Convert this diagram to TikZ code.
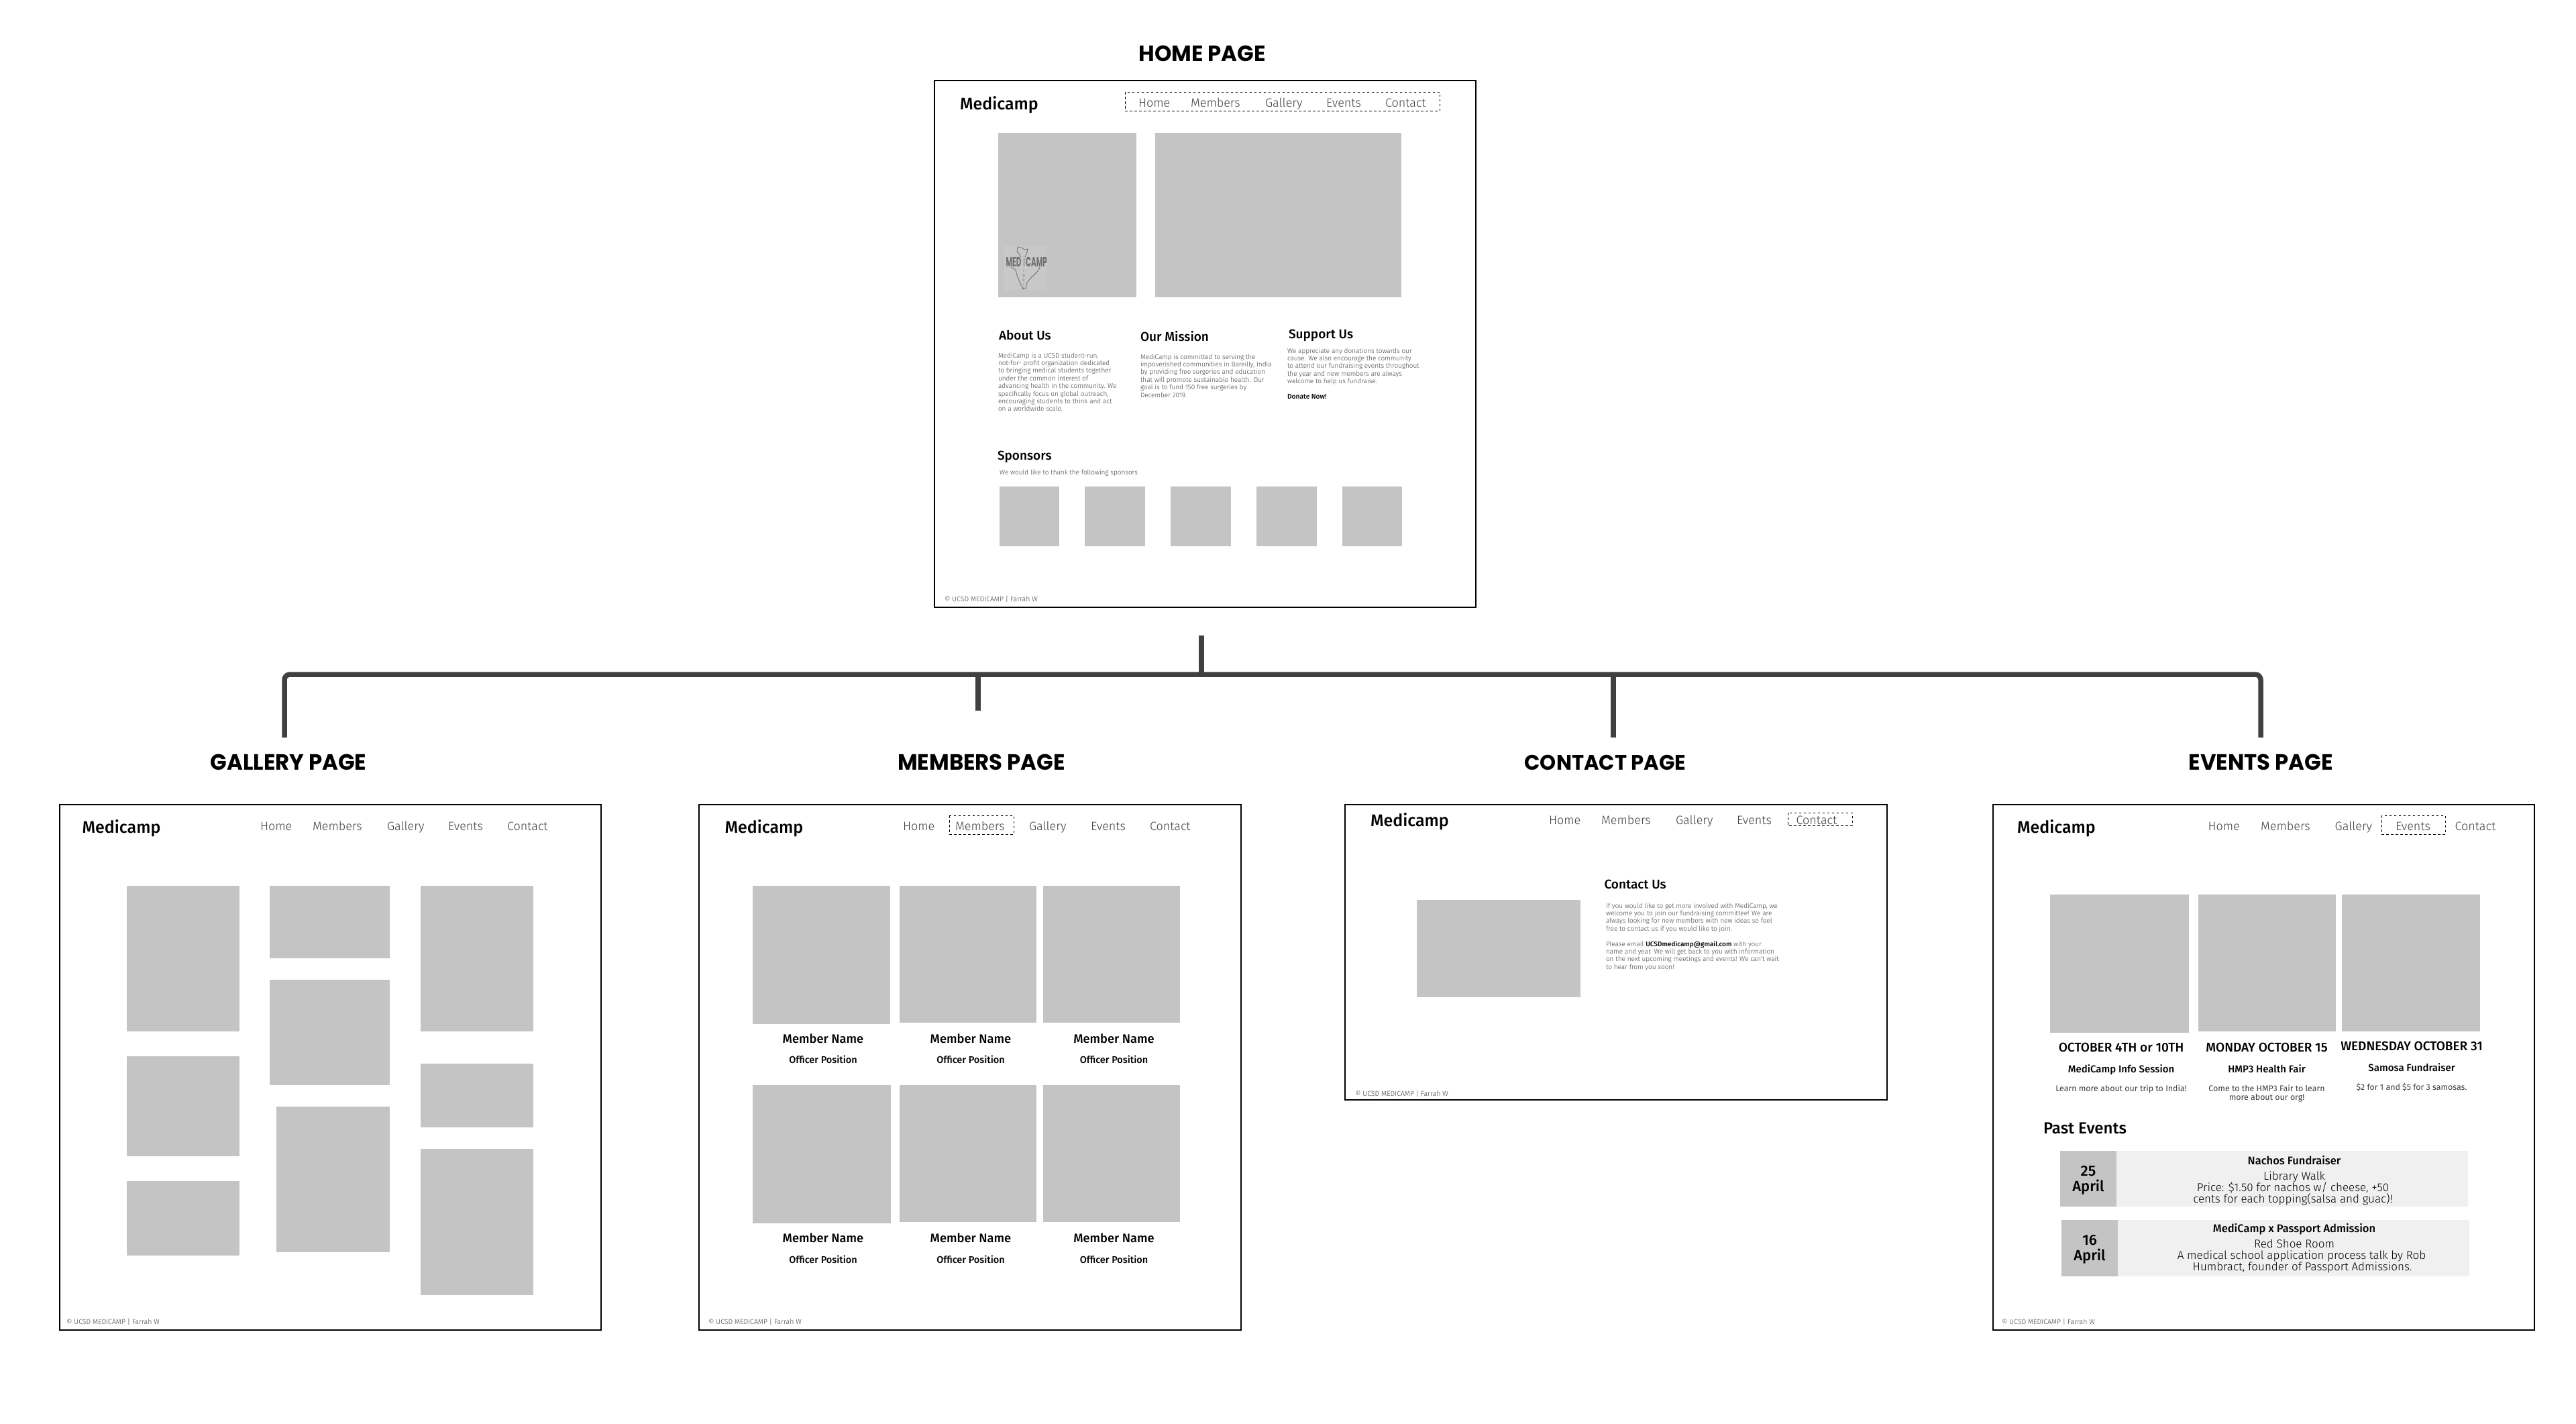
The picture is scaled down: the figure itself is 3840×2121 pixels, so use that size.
\documentclass[tikz,border=0pt]{standalone}
\usepackage{fontspec}
\setmainfont{Fira Sans}
\newfontfamily\lightf{Fira Sans Light}
\newfontfamily\semif{Fira Sans Medium}
\newfontfamily\headf[FakeStretch=0.98]{Poppins}
\newfontfamily\logof[FakeStretch=0.52]{Poppins}
\newcommand\fs[2]{\fontsize{#1pt}{#2pt}\selectfont\lineskiplimit=-20pt\relax}
\newcounter{nn}
\definecolor{imgc}{HTML}{C4C4C4}
\definecolor{bodyc}{HTML}{404040}
\definecolor{linkc}{HTML}{404040}
\definecolor{logoc}{HTML}{6E6E6E}
\tikzset{
  x=1pt,y=-1pt,
  txt/.style={inner sep=0pt,outer sep=0pt,anchor=base west,yshift=-1pt},
  ctxt/.style={inner sep=0pt,outer sep=0pt,anchor=base,yshift=-1pt},
  pagehead/.style={ctxt,font=\headf\bfseries\fs{33}{36}},
  brand/.style={txt,font=\semif\fs{25}{28}},
  navt/.style={txt,font=\lightf\fs{18}{20},text=bodyc},
  foot/.style={txt,font=\lightf\fs{10.5}{12},text=bodyc},
  hthree/.style={txt,font=\semif\fs{19}{22}},
  bodyt/.style={txt,font=\lightf\fs{10}{11.4},text=bodyc},
  imgbox/.style={fill=imgc,draw=none},
  pageframe/.style={draw=black,line width=2.5pt,fill=white},
  dashbox/.style={draw=black,line width=1pt,dash pattern=on 3.5pt off 3.5pt},
  bus/.style={draw=linkc,line width=7.5pt,line join=round},
  mname/.style={ctxt,font=\semif\fs{18.3}{20}},
  mpos/.style={ctxt,font=\semif\fs{14.5}{16}},
  edate/.style={ctxt,font=\semif\fs{19}{22},text=black},
  esub/.style={ctxt,font=\semif\fs{15}{17}},
  edesc/.style={ctxt,font=\fs{12.4}{14},text=bodyc},
  cday/.style={ctxt,font=\semif\fs{22}{24}},
  ctitle/.style={ctxt,font=\semif\fs{16.5}{19}},
  cline/.style={ctxt,font=\lightf\fs{17}{19},text=black},
  logot/.style={ctxt,font=\logof\bfseries\fs{20}{22},text=logoc},
  logoi/.style={ctxt,font=\fs{5}{5.6},text=logoc},
  logol/.style={draw=logoc,line width=0.8pt,line join=round},
}
\newcommand\T[4][]{\stepcounter{nn}\node[#1] (n\arabic{nn}) at (#2,#3) {#4};}
\newcommand\R[4]{\path[imgbox] (#1,#2) rectangle (#3,#4);}
\newcommand\Nav[6]{%
  \T[navt]{#2}{#1}{Home}\T[navt]{#3}{#1}{Members}\T[navt]{#4}{#1}{Gallery}%
  \T[navt]{#5}{#1}{Events}\T[navt]{#6}{#1}{Contact}}
\newcommand\Foot[2]{\T[foot]{#1}{#2}{© UCSD MEDICAMP | Farrah W}}
\newcommand\Para[3]{\T[bodyt]{#1}{#2}{\vtop{#3}}}
\newcommand\LL[1]{\hbox{#1}}
\begin{document}
\begin{tikzpicture}
\useasboundingbox (0,0) rectangle (3840,2121);
\fill[white] (0,0) rectangle (3840,2121);

% ---------- connectors
\coordinate (trunkTop) at (1791,947);
\coordinate (trunkJoin) at (1791,1005);
\coordinate (galDrop) at (424,1099);
\coordinate (galCorner) at (424,1005);
\coordinate (memJoin) at (1458,1005);
\coordinate (memDrop) at (1458,1059);
\coordinate (conJoin) at (2405,1005);
\coordinate (conDrop) at (2405,1099);
\coordinate (evtCorner) at (3370,1005);
\coordinate (evtDrop) at (3370,1099);
\draw[bus,rounded corners=8pt] (galDrop) -- (galCorner) -- (evtCorner) -- (evtDrop);
\draw[bus] (trunkTop) -- (trunkJoin);
\draw[bus] (memJoin) -- (memDrop);
\draw[bus] (conJoin) -- (conDrop);

% ---------- HOME
\T[pagehead]{1792}{90}{HOME PAGE}
\path[pageframe] (1393,120) rectangle (2200,905);
\T[brand]{1431}{162}{Medicamp}
\path[dashbox] (1677,137) rectangle (2146,165);
\Nav{158}{1697}{1775}{1886}{1977}{2065}
\R{1488}{198}{1694}{443}
\R{1722}{198}{2089}{443}
% logo
\path[fill=black!21.5] (1497,366) rectangle (1560,433);
\draw[logol]
  (1522,383) -- (1519,378) -- (1516,375) -- (1517,368) -- (1523,369) -- (1527,372) -- (1532,371) -- (1531,376) -- (1528,383);
\draw[logol]
  (1507,398) -- (1514,402) -- (1516,410) -- (1520,420) -- (1525,431) -- (1529,430) -- (1531,421) -- (1536,415) -- (1548,403) -- (1550,398);
\T[logot]{1511}{396}{MED}
\T[logot]{1545}{396}{CAMP}
\draw[logol] (1526,384) -- (1526,397);
\T[logoi]{1526}{404}{I}
\T[logoi]{1526}{411}{N}
\T[logoi]{1526}{418}{D}
\T[logoi]{1526}{424}{I}
\T[logoi]{1526}{430}{A}

\T[hthree]{1489}{505}{About Us}
\Para{1488}{532}{\LL{MediCamp is a UCSD student-run,}\LL{not-for- profit organization dedicated}\LL{to bringing medical students together}\LL{under the common interest of}\LL{advancing health in the community. We}\LL{specifically focus on global outreach,}\LL{encouraging students to think and act}\LL{on a worldwide scale.}}
\T[hthree]{1700}{507}{Our Mission}
\Para{1700}{534}{\LL{MediCamp is committed to serving the}\LL{impoverished communities in Bareilly, India}\LL{by providing free surgeries and education}\LL{that will promote sustainable health. Our}\LL{goal is to fund 150 free surgeries by}\LL{December 2019.}}
\T[hthree]{1921}{503}{Support Us}
\Para{1919}{525}{\LL{We appreciate any donations towards our}\LL{cause. We also encourage the community}\LL{to attend our fundraising events throughout}\LL{the year and new members are always}\LL{welcome to help us fundraise.}}
\T[txt,font=\semif\fs{10.2}{12}]{1919}{593}{Donate Now!}
\T[hthree]{1487}{684}{Sponsors}
\T[bodyt]{1490}{706}{We would like to thank the following sponsors}
\R{1490}{725}{1579}{814}
\R{1617}{725}{1707}{814}
\R{1745}{725}{1835}{814}
\R{1873}{725}{1963}{814}
\R{2001}{725}{2090}{814}
\Foot{1408}{895}

% ---------- GALLERY
\T[pagehead]{430}{1146}{GALLERY PAGE}
\path[pageframe] (89,1199) rectangle (896,1982);
\T[brand]{122.6}{1240}{Medicamp}
\Nav{1236}{388}{466}{577}{668}{756}
\R{189}{1320}{357}{1537}
\R{189}{1574}{357}{1723}
\R{189}{1760}{357}{1871}
\R{402}{1320}{581}{1428}
\R{402}{1460}{581}{1617}
\R{412}{1649}{581}{1866}
\R{627}{1320}{795}{1537}
\R{627}{1585}{795}{1680}
\R{627}{1712}{795}{1930}
\Foot{99}{1972}

% ---------- MEMBERS
\T[pagehead]{1463}{1146}{MEMBERS PAGE}
\path[pageframe] (1042,1199) rectangle (1850,1982);
\T[brand]{1080.5}{1240}{Medicamp}
\path[dashbox] (1415,1215) rectangle (1511,1243);
\Nav{1236}{1346}{1424}{1534}{1626}{1714}
\R{1122}{1320}{1327}{1526}
\R{1341}{1320}{1545}{1524}
\R{1554.5}{1320}{1759}{1524}
\R{1122}{1617}{1328}{1823}
\R{1341}{1617}{1545}{1821}
\R{1554.5}{1617}{1759}{1821}
\T[mname]{1227}{1553}{Member Name}
\T[mname]{1447}{1553}{Member Name}
\T[mname]{1660.5}{1553}{Member Name}
\T[mpos]{1227}{1583}{Officer Position}
\T[mpos]{1447}{1583}{Officer Position}
\T[mpos]{1660.5}{1583}{Officer Position}
\T[mname]{1227}{1850}{Member Name}
\T[mname]{1447}{1850}{Member Name}
\T[mname]{1660.5}{1850}{Member Name}
\T[mpos]{1227}{1881}{Officer Position}
\T[mpos]{1447}{1881}{Officer Position}
\T[mpos]{1660.5}{1881}{Officer Position}
\Foot{1056}{1972}

% ---------- CONTACT
\T[pagehead,font=\headf\bfseries\fs{31.3}{36}]{2393}{1146}{CONTACT PAGE}
\path[pageframe] (2005,1199) rectangle (2813,1639);
\T[brand]{2043}{1230}{Medicamp}
\path[dashbox] (2665,1211) rectangle (2761,1230);
\Nav{1227}{2309}{2387}{2498}{2589}{2677.6}
\R{2112}{1341}{2356}{1486}
\T[hthree]{2391.5}{1323.5}{Contact Us}
\Para{2394}{1352}{\LL{If you would like to get more involved with MediCamp, we}\LL{welcome you to join our fundraising committee! We are}\LL{always looking for new members with new ideas so feel}\LL{free to contact us if you would like to join.}}
\Para{2394}{1409}{\LL{Please email {\semif\color{black}UCSDmedicamp@gmail.com} with your}\LL{name and year. We will get back to you with information}\LL{on the next upcoming meetings and events! We can't wait}\LL{to hear from you soon!}}
\Foot{2020}{1632}

% ---------- EVENTS
\T[pagehead]{3370}{1146}{EVENTS PAGE}
\path[pageframe] (2971,1199) rectangle (3778,1982);
\T[brand]{3007}{1240}{Medicamp}
\path[dashbox] (3550,1215) rectangle (3645,1243);
\Nav{1236}{3291.5}{3370}{3480.6}{3571}{3659.5}
\R{3056}{1333}{3263}{1539}
\R{3276.5}{1333}{3482}{1537}
\R{3491}{1333}{3696.5}{1537}
\T[edate]{3162}{1566}{OCTOBER 4TH or 10TH}
\T[edate]{3379}{1566}{MONDAY OCTOBER 15}
\T[edate]{3595}{1564}{WEDNESDAY OCTOBER 31}
\T[esub]{3162}{1597}{MediCamp Info Session}
\T[esub]{3379}{1597}{HMP3 Health Fair}
\T[esub]{3595}{1595}{Samosa Fundraiser}
\T[edesc]{3162}{1625}{Learn more about our trip to India!}
\T[edesc]{3379}{1625}{Come to the HMP3 Fair to learn}
\T[edesc]{3379}{1638}{more about our org!}
\T[edesc]{3595}{1623}{\$2 for 1 and \$5 for 3 samosas.}
\T[txt,font=\semif\fs{24}{27}]{3046}{1688}{Past Events}
\path[fill=black!6] (3155,1715) rectangle (3679,1798);
\R{3071}{1715}{3155}{1798}
\T[cday]{3113}{1751}{25}
\T[cday]{3113}{1774}{April}
\T[ctitle]{3420}{1734}{Nachos Fundraiser}
\T[cline]{3420}{1757}{Library Walk}
\T[cline]{3418}{1774}{Price: \$1.50 for nachos w/ cheese, +50}
\T[cline]{3418}{1791}{cents for each topping(salsa and guac)!}
\path[fill=black!6] (3157,1818) rectangle (3681,1902);
\R{3073}{1818}{3157}{1902}
\T[cday]{3115}{1854}{16}
\T[cday]{3115}{1877}{April}
\T[ctitle]{3420}{1835}{MediCamp x Passport Admission}
\T[cline]{3420}{1858}{Red Shoe Room}
\T[cline]{3431}{1875}{A medical school application process talk by Rob}
\T[cline]{3432}{1892}{Humbract, founder of Passport Admissions.}
\Foot{2984}{1972}
\end{tikzpicture}
\end{document}
